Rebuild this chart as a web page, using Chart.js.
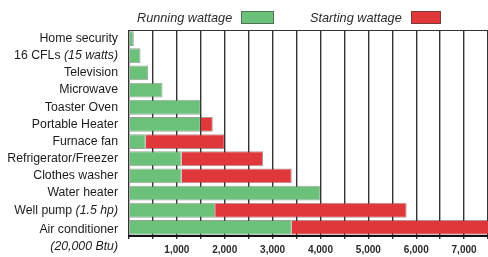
<!DOCTYPE html>
<html><head><meta charset="utf-8">
<script src="https://cdn.jsdelivr.net/npm/chart.js@4.4.1/dist/chart.umd.min.js"></script>
<style>
html,body{margin:0;padding:0;background:#fff;overflow:hidden;width:488px;height:257px}
#wrap{position:absolute;left:0;top:0;width:493px;height:257px}
</style>
</head><body><div id="wrap"><canvas id="c"></canvas></div>
<script>
const categories = ['Home security','16 CFLs','Television','Microwave','Toaster Oven','Portable Heater','Furnace fan','Refrigerator/Freezer','Clothes washer','Water heater','Well pump','Air conditioner'];
const labelNotes = ['','(15 watts)','','','','','','','','','(1.5 hp)','(20,000 Btu)'];
const runningWatts = [100, 240, 400, 700, 1500, 1500, 350, 1100, 1100, 4000, 1800, 3400];
const startingWatts = [null, null, null, null, null, 1750, 2000, 2800, 3400, null, 5800, 8000];
const xTickLabels = ['1,000','2,000','3,000','4,000','5,000','6,000','7,000'];
const legendLabels = ['Running wattage','Starting wattage'];

const GREEN = '#6cc17a', RED = '#e0373a';
const FONT = '"Liberation Sans", Arial, Helvetica, sans-serif';
const LBL = '12.3px ';

const startRanges = startingWatts.map((s, i) => s == null ? null : [runningWatts[i], s]);

const decor = {
  id: 'decor',
  afterDraw(chart) {
    const ctx = chart.ctx, ca = chart.chartArea, y = chart.scales.y;
    ctx.save();
    ctx.strokeStyle = '#333'; ctx.lineWidth = 1.2;
    ctx.beginPath(); ctx.moveTo(ca.left, ca.top + 0.5); ctx.lineTo(ca.right, ca.top + 0.5); ctx.stroke();
    ctx.fillStyle = '#1c1c1c'; ctx.textBaseline = 'middle';
    const xr = 118;
    categories.forEach((c, i) => {
      const py = y.getPixelForValue(i);
      const note = labelNotes[i];
      ctx.textAlign = 'right';
      if (i === categories.length - 1 && note) {
        ctx.font = LBL + FONT;
        ctx.fillText(c, xr, py + 2);
        ctx.font = 'italic ' + LBL + FONT;
        ctx.fillText(note, xr, py + 19);
        return;
      }
      if (note) {
        ctx.font = 'italic ' + LBL + FONT;
        const w = ctx.measureText(note).width;
        ctx.fillText(note, xr, py);
        ctx.font = LBL + FONT;
        ctx.fillText(c + ' ', xr - w, py);
      } else {
        ctx.font = LBL + FONT;
        ctx.fillText(c, xr, py);
      }
    });
    ctx.font = 'italic 12.7px ' + FONT; ctx.textAlign = 'left';
    const items = [{t: legendLabels[0], x: 137, bx: 241, bw: 33, c: GREEN}, {t: legendLabels[1], x: 310, bx: 411, bw: 30, c: RED}];
    items.forEach(it => {
      ctx.fillStyle = '#2a2a2a';
      ctx.fillText(it.t, it.x, 18);
      ctx.fillStyle = it.c; ctx.fillRect(it.bx, 11, it.bw, 13);
      ctx.strokeStyle = 'rgba(60,60,60,0.6)'; ctx.lineWidth = 1;
      ctx.strokeRect(it.bx + 0.5, 11.5, it.bw - 1, 12);
    });
    ctx.restore();
  }
};

new Chart(document.getElementById('c'), {
  type: 'bar',
  data: {
    labels: categories,
    datasets: [
      {label: legendLabels[0], data: runningWatts, backgroundColor: GREEN, borderColor: 'rgba(70,90,70,0.55)', borderWidth: 1, grouped: false, barPercentage: 0.86, categoryPercentage: 1},
      {label: legendLabels[1], data: startRanges, backgroundColor: RED, borderColor: 'rgba(110,40,40,0.5)', borderWidth: 1, grouped: false, barPercentage: 0.86, categoryPercentage: 1}
    ]
  },
  options: {
    indexAxis: 'y',
    responsive: true,
    maintainAspectRatio: false,
    animation: false,
    events: [],
    layout: {padding: {left: 129, top: 30, right: 2.5, bottom: -4}},
    plugins: {legend: {display: false}, tooltip: {enabled: false}},
    scales: {
      x: {
        min: 0, max: 7500,
        ticks: {
          stepSize: 500, autoSkip: false, maxRotation: 0,
          padding: 5,
          color: '#2a2a2a',
          font: {family: FONT, size: 10, weight: 'bold'},
          callback: (v) => (v > 0 && v % 1000 === 0) ? xTickLabels[v / 1000 - 1] : ''
        },
        grid: {color: '#333', lineWidth: 1.4, tickLength: 3, tickColor: '#333'},
        border: {display: true, color: '#111', width: 2}
      },
      y: {
        display: false,
        grid: {display: false}
      }
    }
  },
  plugins: [decor]
});
</script>
</body></html>
